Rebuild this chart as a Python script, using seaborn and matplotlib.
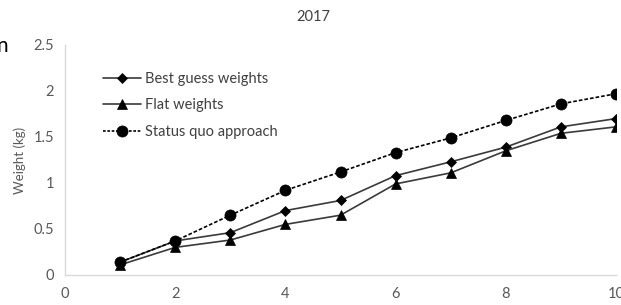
import matplotlib
matplotlib.use("Agg")
import matplotlib.pyplot as plt
import pandas as pd
import seaborn as sns

# ─── Data ─────────────────────────────────────────────────────────────────────

YEARS      = [1, 2, 3, 4, 5, 6, 7, 8, 9, 10]
BEST_GUESS = [0.14, 0.37, 0.46, 0.70, 0.81, 1.08, 1.23, 1.39, 1.61, 1.70]
FLAT       = [0.11, 0.30, 0.38, 0.55, 0.65, 0.99, 1.11, 1.35, 1.54, 1.61]
STATUS_QUO = [0.14, 0.37, 0.65, 0.92, 1.12, 1.33, 1.49, 1.68, 1.86, 1.97]

SERIES = ["Best guess weights", "Flat weights", "Status quo approach"]

X_TICKS = [0, 2, 4, 6, 8, 10]
Y_TICKS = [0, 0.5, 1, 1.5, 2, 2.5]
Y_TICK_LABELS = ["0", "0.5", "1", "1.5", "2", "2.5"]

df = pd.DataFrame({
    "year":   YEARS * 3,
    "weight": BEST_GUESS + FLAT + STATUS_QUO,
    "series": [SERIES[0]] * 10 + [SERIES[1]] * 10 + [SERIES[2]] * 10,
})

# ─── Plot ─────────────────────────────────────────────────────────────────────

sns.set_style("white")
plt.rcParams["font.family"] = ["Lato", "DejaVu Sans"]

fig = plt.figure(figsize=(6.21, 3.05), dpi=100)
ax = fig.add_axes([0.1047, 0.0984, 0.8873, 0.7541])

styles = {
    SERIES[0]: dict(marker="D", ms=5.5, ls="-",  color="#3a3a3a"),
    SERIES[1]: dict(marker="^", ms=7.5, ls="-",  color="#3a3a3a"),
    SERIES[2]: dict(marker="o", ms=8,   ls=(0, (2.2, 1.2)), color="black"),
}

for name in SERIES:
    st = styles[name]
    sub = df[df["series"] == name]
    sns.lineplot(data=sub, x="year", y="weight", ax=ax, label=name,
                 color=st["color"], lw=1.2, linestyle=st["ls"],
                 marker=st["marker"], markersize=st["ms"],
                 markerfacecolor="black", markeredgecolor="black",
                 markeredgewidth=0.5)

ax.set_xlim(0, 10)
ax.set_ylim(0, 2.5)
ax.set_xticks(X_TICKS)
ax.set_yticks(Y_TICKS)
ax.set_yticklabels(Y_TICK_LABELS)
ax.tick_params(axis="both", length=0, labelsize=10.5, labelcolor="#595959",
               pad=8)
ax.tick_params(axis="x", pad=9)
ax.set_xlabel("")
ax.set_ylabel("Weight (kg)", fontsize=9.5, color="#595959", labelpad=5)

for side in ["top", "right"]:
    ax.spines[side].set_visible(False)
for side in ["left", "bottom"]:
    ax.spines[side].set_color("#d9d9d9")
    ax.spines[side].set_linewidth(1.0)

leg = ax.legend(loc="upper left", bbox_to_anchor=(0.045, 0.94), frameon=False,
                fontsize=10.5, handlelength=2.6, handletextpad=0.3,
                labelspacing=0.85, labelcolor="#404040")
leg.get_lines()[2].set_linestyle((0, (1.6, 1.0)))

fig.text(0.505, 0.945, "2017", ha="center", va="center",
         fontsize=10.5, color="#404040")
fig.text(-0.006, 0.83, "n", ha="left", va="baseline", fontsize=15,
         color="black")

fig.savefig("out.png", dpi=100)
